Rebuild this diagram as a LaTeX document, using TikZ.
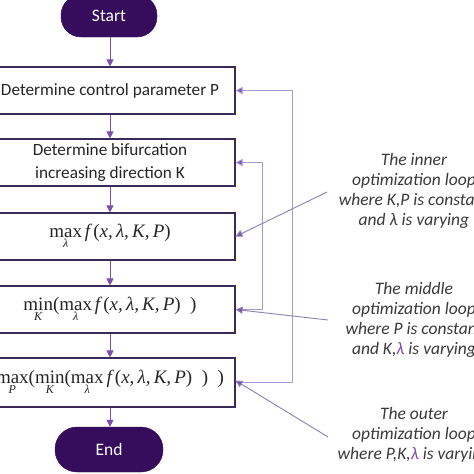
\documentclass[tikz,border=0pt]{standalone}
\usepackage{fontspec}
\setmainfont{Carlito}
\newfontfamily\lib{Liberation Serif}
\usetikzlibrary{arrows.meta}
\definecolor{term}{HTML}{360C5C}
\definecolor{boxline}{HTML}{3A2A58}
\definecolor{arr}{HTML}{7A4FB0}
\definecolor{loopc}{HTML}{A898D0}
\definecolor{annc}{HTML}{8C80B4}
\definecolor{txtc}{HTML}{3A3A3A}
\newcommand\opl[2]{\mathop{\hbox{\lib #1}}\limits_{\hbox{\lib\fontsize{12}{12}\selectfont\itshape #2}}}
\newcommand\fx{\hbox{\lib\itshape f\,\upshape(\itshape x,\,λ,\,K,\,P\upshape)}}
\newcommand\lp{\mathopen{\hbox{\lib(}}}
\newcommand\rp{\mathclose{\hbox{\lib\,\,\,)}}}
\tikzset{
  terminal/.style={fill=term, draw=term, rounded corners=20pt, text=white,
    font=\fontsize{17.5}{20}\selectfont, inner sep=0pt},
  procbox/.style={draw=boxline, line width=1.1pt, fill=white, minimum width=250pt,
    minimum height=47pt, inner sep=0pt, align=center, text=black!85,
    font=\fontsize{17.2}{22.5}\selectfont},
  mathbox/.style={procbox, font=\fontsize{19}{22}\selectfont},
  flow/.style={draw=arr, line width=0.8pt, -{Triangle[length=7pt,width=7pt]}},
  loopline/.style={draw=loopc, line width=1pt, -{Triangle[length=7pt,width=7pt,fill=arr]}},
  annline/.style={draw=annc, line width=0.9pt, -{Triangle[length=7pt,width=7pt,fill=arr]}},
  annot/.style={text=txtc, align=center, font=\fontsize{17.5}{20}\selectfont\itshape}
}
\begin{document}
\begin{tikzpicture}[x=1pt,y=-1pt]
\useasboundingbox (0,0) rectangle (474,474);
\clip (0,0) rectangle (474,474);
\fill[white] (0,0) rectangle (474,474);
\node[terminal, minimum width=96pt, minimum height=42pt] (start) at (109,16) {Start};
\node[procbox] (b1) at (110,90.5) {Determine control parameter P};
\node[procbox] (b2) at (110,162.5) {Determine bifurcation\\increasing direction K};
\node[mathbox] (b3) at (110,236.5) {\(\opl{max}{λ}\fx\)};
\node[mathbox] (b4) at (110,309.5) {\(\opl{min}{K}\lp\opl{max}{λ}\fx\rp\)};
\node[mathbox, minimum height=49pt] (b5) at (110,382.5) {\(\opl{max}{P}\lp\opl{min}{K}\lp\opl{max}{λ}\fx\rp\rp\)};
\node[terminal, minimum width=108pt, minimum height=45pt, rounded corners=22pt] (end) at (109,449.5) {End};

\draw[flow] (start.south -| b1.north) -- (b1.north);
\draw[flow] (b1.south) -- (b2.north);
\draw[flow] (b2.south) -- (b3.north);
\draw[flow] (b3.south) -- (b4.north);
\draw[flow] (b4.south) -- (b5.north);
\draw[flow] (b5.south) -- (b5.south |- end.north);

\coordinate (oc) at (292,0);
\coordinate (ic) at (262,0);
\draw[loopline] (b5.east) -- (b5.east -| oc) -- (b1.east -| oc) -- (b1.east);
\draw[loopline] (b4.east) -- (b4.east -| ic) -- (b2.east -| ic) -- (b2.east);

\node[annot] (t1) at (414,191) {The inner\\optimization loop\\where K,P is constant\\and λ is varying};
\node[annot] (t2) at (414,320) {The middle\\optimization loop\\where P is constant\\and K,\textcolor{arr}{λ} is varying};
\node[annot] (t3) at (414,435) {The outer\\optimization loop\\where P,K,\textcolor{arr}{λ} is varying};

\coordinate (a1) at (327,192);
\coordinate (a2) at (328,320);
\coordinate (a3) at (328,437);
\draw[annline] (a1) -- (b3.east);
\draw[annline] (a2) -- (b4.east);
\draw[annline] (a3) -- ([yshift=2pt]b5.east);
\end{tikzpicture}
\end{document}
